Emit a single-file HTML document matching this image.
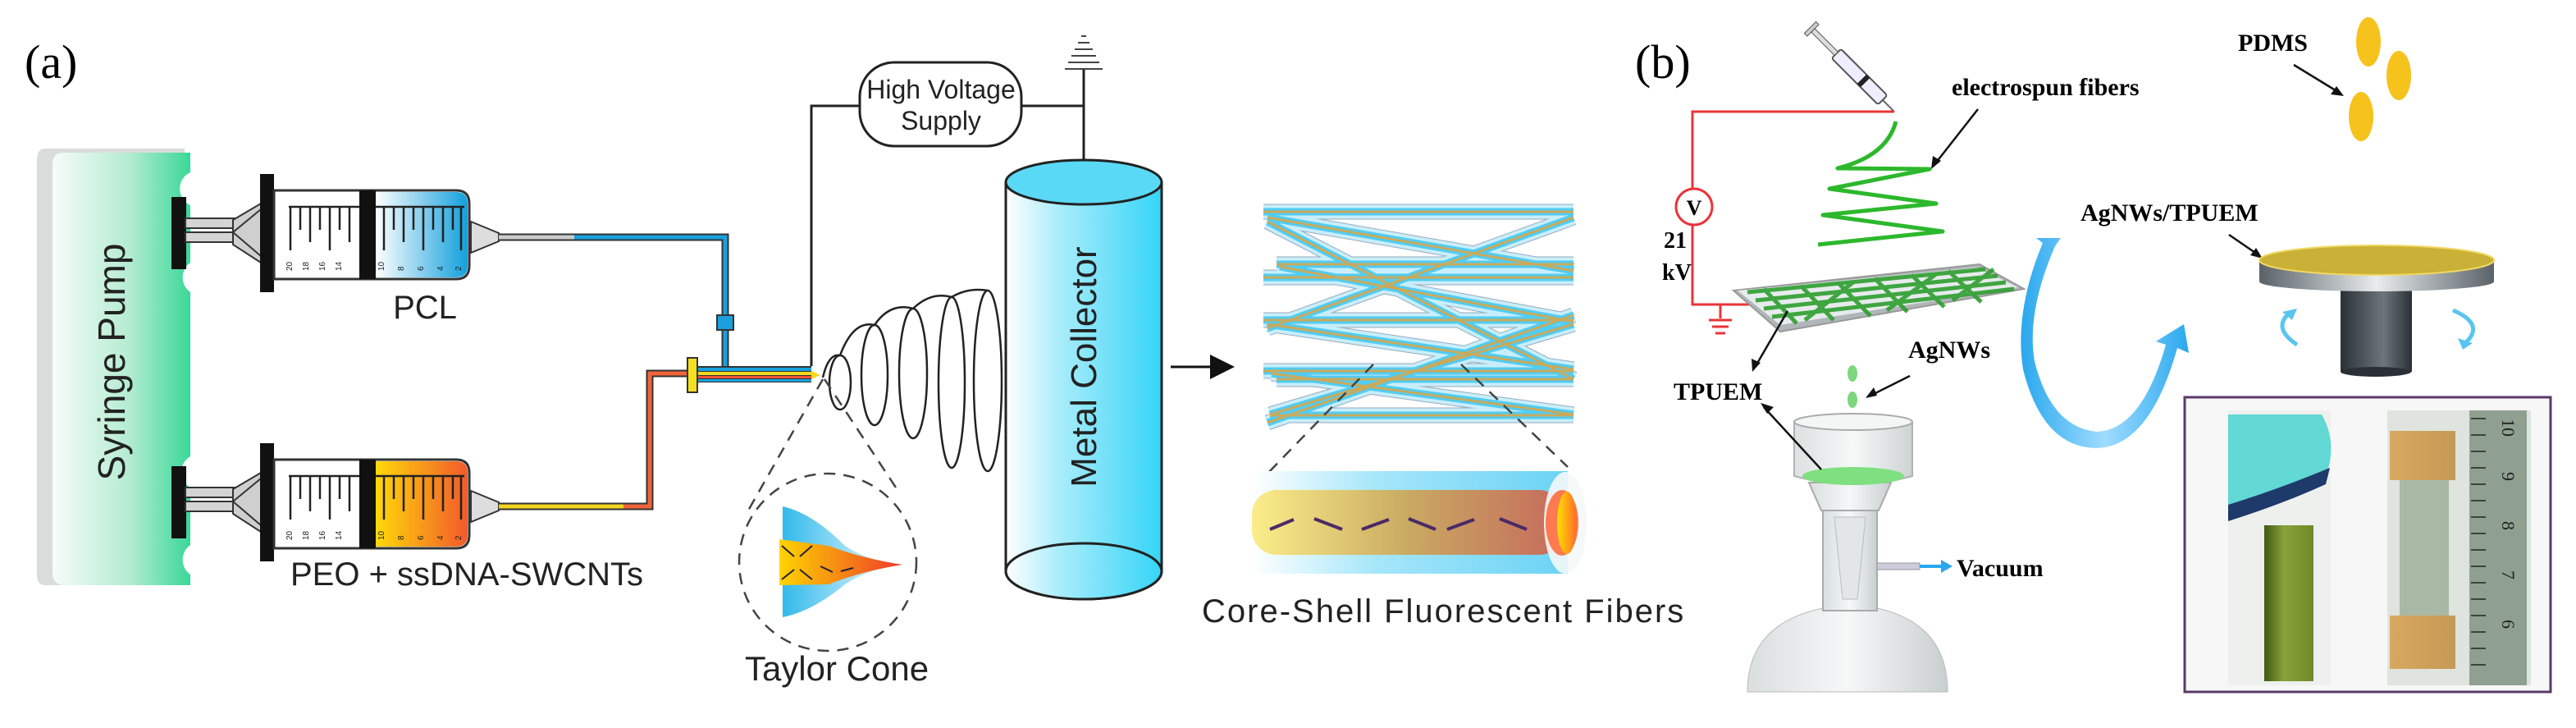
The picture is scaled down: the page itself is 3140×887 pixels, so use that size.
<!DOCTYPE html>
<html><head><meta charset="utf-8"><style>
html,body{margin:0;padding:0;background:#fff;width:3140px;height:887px;overflow:hidden}
svg{display:block}
.sans{font-family:"Liberation Sans",Arial,sans-serif}
.serif{font-family:"Liberation Serif","Times New Roman",serif}
</style></head><body>
<svg width="3140" height="887" viewBox="0 0 3140 887" xmlns="http://www.w3.org/2000/svg">
<defs>
<linearGradient id="pump" x1="0" x2="1" y1="0" y2="0"><stop offset="0" stop-color="#f6fcf8"/><stop offset="0.55" stop-color="#b5ecd2"/><stop offset="1" stop-color="#3ad898"/></linearGradient>
<linearGradient id="blueF" x1="0" x2="1"><stop offset="0" stop-color="#ffffff"/><stop offset="1" stop-color="#12a0dc"/></linearGradient>
<linearGradient id="orF" x1="0" x2="1"><stop offset="0" stop-color="#ffd80a"/><stop offset="1" stop-color="#f25a2a"/></linearGradient>
<linearGradient id="coll" x1="0" x2="1"><stop offset="0" stop-color="#ffffff"/><stop offset="0.35" stop-color="#a8ecfb"/><stop offset="1" stop-color="#34d5f7"/></linearGradient>
<linearGradient id="shell" x1="0" x2="1"><stop offset="0" stop-color="#ffffff"/><stop offset="0.4" stop-color="#a5e6fa"/><stop offset="1" stop-color="#6bd3f5"/></linearGradient>
<linearGradient id="core" x1="0" x2="1"><stop offset="0" stop-color="#fbed8a"/><stop offset="0.5" stop-color="#c9aa62"/><stop offset="1" stop-color="#c66a5c"/></linearGradient>
<linearGradient id="endc" x1="0" x2="1"><stop offset="0" stop-color="#ffe000"/><stop offset="1" stop-color="#ff6a2a"/></linearGradient>
<linearGradient id="tcone" x1="0" x2="1"><stop offset="0" stop-color="#27b6ea"/><stop offset="1" stop-color="#ffffff"/></linearGradient>
<linearGradient id="tcore" x1="0" x2="1"><stop offset="0" stop-color="#ffd400"/><stop offset="1" stop-color="#ee3a2a"/></linearGradient>
<linearGradient id="disk" x1="0" x2="1"><stop offset="0" stop-color="#5a6268"/><stop offset="0.5" stop-color="#e8ecee"/><stop offset="1" stop-color="#5a6268"/></linearGradient>
<linearGradient id="shaft" x1="0" x2="1"><stop offset="0" stop-color="#2a3036"/><stop offset="0.6" stop-color="#6c767c"/><stop offset="1" stop-color="#2a3036"/></linearGradient>
<linearGradient id="uarr" x1="0" x2="1"><stop offset="0" stop-color="#2aa8ee"/><stop offset="0.5" stop-color="#9fdcff"/><stop offset="1" stop-color="#2aa8ee"/></linearGradient>
<linearGradient id="flask" x1="0" x2="1"><stop offset="0" stop-color="#d9dedf"/><stop offset="0.5" stop-color="#f6f8f8"/><stop offset="1" stop-color="#c9cfd0"/></linearGradient>
<linearGradient id="tube" x1="0" x2="1"><stop offset="0" stop-color="#3e5a10"/><stop offset="0.4" stop-color="#8aa23a"/><stop offset="1" stop-color="#6f8a2a"/></linearGradient>
<linearGradient id="gold" x1="0" x2="1"><stop offset="0" stop-color="#d8a860"/><stop offset="1" stop-color="#c59a55"/></linearGradient>
</defs>

<text x="30" y="95" class="serif" font-size="58">(a)</text>

<path d="M55,181 H225 V205 A22,22 0 0 0 225,250 V318 A22,22 0 0 0 225,360 V552 A22,22 0 0 0 225,596 V660 A22,22 0 0 0 225,700 V713 H55 Q45,713 45,700 V195 Q45,181 55,181 Z" fill="#d8dcdc"/>
<path d="M68,186 H232 V210 A22,22 0 0 0 232,250 V320 A22,22 0 0 0 232,356 V556 A22,22 0 0 0 232,594 V664 A22,22 0 0 0 232,700 V713 H80 Q64,713 64,698 V200 Q64,186 78,186 Z" fill="url(#pump)"/>
<text transform="translate(152,441) rotate(-90)" text-anchor="middle" class="sans" font-size="46" fill="#222">Syringe Pump</text>

<g id="syr">
<rect x="209" y="240" width="18" height="88" fill="#111"/>
<rect x="226" y="266" width="62" height="12" fill="#d4d4d4" stroke="#333" stroke-width="2"/>
<rect x="226" y="283" width="62" height="12" fill="#d4d4d4" stroke="#333" stroke-width="2"/>
<polygon points="284,268 318,248 318,320 284,298" fill="#cfcfcf" stroke="#333" stroke-width="2"/>
<line x1="284" y1="283" x2="318" y2="255" stroke="#333" stroke-width="2"/>
<line x1="284" y1="283" x2="318" y2="312" stroke="#333" stroke-width="2"/>
<rect x="317" y="212" width="17" height="144" fill="#111"/>
<path d="M334,232 H556 Q572,232 572,248 V324 Q572,340 556,340 H334 Z" fill="#fff" stroke="#333" stroke-width="3"/>
</g>
<path d="M458,234 H556 Q570,234 570,248 V324 Q570,338 556,338 H458 Z" fill="url(#blueF)"/>
<g id="ticks" stroke="#222" stroke-width="2.5">
<line x1="352" y1="252" x2="566" y2="252"/>
<line x1="354" y1="252" x2="354" y2="305"/><line x1="366" y1="252" x2="366" y2="280"/><line x1="378" y1="252" x2="378" y2="295"/><line x1="390" y1="252" x2="390" y2="280"/><line x1="402" y1="252" x2="402" y2="305"/><line x1="414" y1="252" x2="414" y2="280"/><line x1="426" y1="252" x2="426" y2="295"/>
<line x1="468" y1="252" x2="468" y2="305"/><line x1="480" y1="252" x2="480" y2="280"/><line x1="492" y1="252" x2="492" y2="295"/><line x1="504" y1="252" x2="504" y2="280"/><line x1="516" y1="252" x2="516" y2="305"/><line x1="528" y1="252" x2="528" y2="280"/><line x1="540" y1="252" x2="540" y2="295"/><line x1="552" y1="252" x2="552" y2="280"/><line x1="562" y1="252" x2="562" y2="305"/>
</g>
<rect x="438" y="232" width="20" height="108" fill="#111"/>
<g class="sans" font-size="10" fill="#222">
<text transform="translate(356,330) rotate(-90)">20</text><text transform="translate(376,330) rotate(-90)">18</text><text transform="translate(396,330) rotate(-90)">16</text><text transform="translate(416,330) rotate(-90)">14</text>
<text transform="translate(468,330) rotate(-90)">10</text><text transform="translate(492,330) rotate(-90)">8</text><text transform="translate(516,330) rotate(-90)">6</text><text transform="translate(540,330) rotate(-90)">4</text><text transform="translate(562,330) rotate(-90)">2</text>
</g>
<polygon points="574,270 608,284 608,294 574,308" fill="#ddd" stroke="#333" stroke-width="2"/>
<text x="518" y="388" text-anchor="middle" class="sans" font-size="40" fill="#222">PCL</text>

<use href="#syr" transform="translate(0,328)"/>
<path d="M458,562 H556 Q570,562 570,576 V652 Q570,666 556,666 H458 Z" fill="url(#orF)"/>
<use href="#ticks" transform="translate(0,328)"/>
<rect x="438" y="560" width="20" height="108" fill="#111"/>
<g class="sans" font-size="10" fill="#222" transform="translate(0,328)">
<text transform="translate(356,330) rotate(-90)">20</text><text transform="translate(376,330) rotate(-90)">18</text><text transform="translate(396,330) rotate(-90)">16</text><text transform="translate(416,330) rotate(-90)">14</text>
<text transform="translate(468,330) rotate(-90)">10</text><text transform="translate(492,330) rotate(-90)">8</text><text transform="translate(516,330) rotate(-90)">6</text><text transform="translate(540,330) rotate(-90)">4</text><text transform="translate(562,330) rotate(-90)">2</text>
</g>
<polygon points="574,598 608,612 608,622 574,636" fill="#ddd" stroke="#333" stroke-width="2"/>
<text x="354" y="713" class="sans" font-size="40" fill="#222">PEO + ssDNA-SWCNTs</text>

<path d="M608,289 H884 V450" fill="none" stroke="#333" stroke-width="9"/>
<path d="M608,289 H700" fill="none" stroke="#ccc" stroke-width="5"/>
<path d="M700,289 H884 V450" fill="none" stroke="#1aa0dc" stroke-width="5"/>
<rect x="874" y="384" width="20" height="18" fill="#1aa0dc" stroke="#333" stroke-width="2"/>
<path d="M608,617 H792 V455 H846" fill="none" stroke="#333" stroke-width="9"/>
<path d="M608,617 H760" fill="none" stroke="#f2d520" stroke-width="5"/>
<path d="M760,617 H792 V455 H846" fill="none" stroke="#f0643a" stroke-width="5"/>
<rect x="846" y="446" width="143" height="20" fill="#333"/>
<rect x="846" y="448" width="143" height="4" fill="#1aa0dc"/>
<rect x="846" y="453" width="143" height="4" fill="#f5d820"/>
<rect x="846" y="458" width="143" height="3" fill="#f0503a"/>
<rect x="846" y="462" width="143" height="3" fill="#1aa0dc"/>
<rect x="838" y="436" width="12" height="42" fill="#f5e020" stroke="#333" stroke-width="2"/>
<polygon points="989,452 1000,457 989,462" fill="#f5d820"/>

<path d="M989,446 V129 H1048" fill="none" stroke="#222" stroke-width="3"/>
<rect x="1048" y="76" width="197" height="102" rx="42" fill="#fff" stroke="#222" stroke-width="3"/>
<text x="1147" y="120" text-anchor="middle" class="sans" font-size="32" fill="#222">High Voltage</text>
<text x="1147" y="158" text-anchor="middle" class="sans" font-size="32" fill="#222">Supply</text>
<path d="M1245,129 H1321 M1321,84 V198" stroke="#222" stroke-width="3" fill="none"/>
<g stroke="#444" stroke-width="2"><line x1="1298" y1="84" x2="1344" y2="84"/><line x1="1302" y1="76" x2="1340" y2="76"/><line x1="1306" y1="68" x2="1336" y2="68"/><line x1="1310" y1="60" x2="1332" y2="60"/><line x1="1314" y1="52" x2="1328" y2="52"/><line x1="1318" y1="44" x2="1324" y2="44"/></g>

<g fill="none" stroke="#222" stroke-width="2.5">
<path d="M1003,460 Q1010,430 1024,433"/>
<ellipse cx="1024" cy="466" rx="13" ry="33"/>
<ellipse cx="1066" cy="457" rx="16" ry="61"/>
<ellipse cx="1113" cy="455" rx="17" ry="79"/>
<ellipse cx="1160" cy="466" rx="16" ry="104"/>
<ellipse cx="1204" cy="464" rx="17" ry="110"/>
<path d="M1024,433 Q1040,390 1066,396 M1066,396 Q1085,368 1113,376 M1113,376 Q1135,355 1160,362 M1160,362 Q1180,350 1204,354"/>
</g>
<g stroke="#444" stroke-width="2.5" stroke-dasharray="14,10" fill="none">
<circle cx="1009" cy="685" r="108"/>
<line x1="1003" y1="462" x2="912" y2="622"/>
<line x1="1005" y1="462" x2="1092" y2="594"/>
</g>
<path d="M954,617 Q990,625 1030,665 Q1060,685 1102,688 Q1060,692 1030,712 Q990,745 954,752 Z" fill="url(#tcone)" opacity="0.95"/>
<path d="M950,657 L1010,665 Q1050,680 1100,688 Q1050,696 1010,712 L950,713 Z" fill="url(#tcore)"/>
<g stroke="#223" stroke-width="2"><line x1="953" y1="665" x2="968" y2="678"/><line x1="990" y1="665" x2="975" y2="678"/><line x1="953" y1="706" x2="968" y2="694"/><line x1="990" y1="706" x2="975" y2="694"/><line x1="1000" y1="690" x2="1015" y2="697"/><line x1="1025" y1="696" x2="1040" y2="692"/></g>
<text x="1020" y="829" text-anchor="middle" class="sans" font-size="42" fill="#222">Taylor Cone</text>

<path d="M1226,222 V696 A95,34 0 0 0 1416,696 V222 Z" fill="url(#coll)" stroke="#222" stroke-width="3"/>
<ellipse cx="1321" cy="222" rx="95" ry="27" fill="#5ad9f6" stroke="#222" stroke-width="3"/>
<ellipse cx="1321" cy="696" rx="95" ry="34" fill="url(#coll)" stroke="#222" stroke-width="3"/>
<text transform="translate(1336,447) rotate(-90)" text-anchor="middle" class="sans" font-size="44" fill="#222">Metal Collector</text>

<line x1="1427" y1="447" x2="1480" y2="447" stroke="#111" stroke-width="3"/>
<polygon points="1475,432 1505,447 1475,462" fill="#111"/>

<g stroke-linecap="butt">
<g id="fibs" fill="none">
<path d="M1540,258 L1918,258 M1556,322 L1918,322 M1540,338 L1918,338 M1540,390 L1918,390 M1540,452 L1918,452 M1556,462 L1918,462 M1548,506 L1918,506 M1545,265 L1918,330 M1560,325 L1918,392 M1545,400 L1918,265 M1545,515 L1918,384 M1545,395 L1918,450 M1550,455 L1918,505 M1548,505 L1918,395 M1545,270 L1918,462"/>
</g>
<use href="#fibs" stroke="#9ab" stroke-width="19"/>
<use href="#fibs" stroke="#c8eefb" stroke-width="17"/>
<use href="#fibs" stroke="#3cc6f0" stroke-width="9" opacity="0.85"/>
<use href="#fibs" stroke="#c9aa5c" stroke-width="3"/>
</g>
<g stroke="#444" stroke-width="2.5" stroke-dasharray="14,10"><line x1="1674" y1="444" x2="1545" y2="577"/><line x1="1781" y1="444" x2="1911" y2="569"/></g>
<rect x="1526" y="574" width="385" height="125" fill="url(#shell)"/>
<rect x="1526" y="597" width="380" height="79" rx="30" fill="url(#core)"/>
<ellipse cx="1908" cy="637" rx="26" ry="62" fill="#f4f8fa" opacity="0.9"/>
<ellipse cx="1904" cy="637" rx="20" ry="40" fill="#ff7a50"/>
<ellipse cx="1910" cy="637" rx="12" ry="38" fill="url(#endc)"/>
<g stroke="#4a2a66" stroke-width="4"><line x1="1548" y1="645" x2="1577" y2="633"/><line x1="1602" y1="632" x2="1636" y2="645"/><line x1="1660" y1="645" x2="1693" y2="633"/><line x1="1717" y1="632" x2="1750" y2="645"/><line x1="1764" y1="645" x2="1797" y2="633"/><line x1="1828" y1="632" x2="1861" y2="645"/></g>
<text x="1465" y="758" class="sans" font-size="40" letter-spacing="2" fill="#222">Core-Shell Fluorescent Fibers</text>

<text x="1993" y="95" class="serif" font-size="58">(b)</text>
<g transform="translate(2309,136) rotate(-135)">
<line x1="0" y1="0" x2="20" y2="0" stroke="#666" stroke-width="2"/>
<rect x="20" y="-8" width="80" height="16" rx="3" fill="#eef" stroke="#555" stroke-width="2"/>
<rect x="50" y="-8" width="6" height="16" fill="#222"/>
<rect x="100" y="-3" width="40" height="6" fill="#ddd" stroke="#555"/>
<rect x="140" y="-10" width="5" height="20" fill="#ccc" stroke="#555"/>
</g>
<path d="M2309,136 H2063 V230 M2063,274 V371 H2159 M2097,371 V388" fill="none" stroke="#e8343a" stroke-width="3"/>
<circle cx="2065" cy="252" r="22" fill="#fff" stroke="#e8343a" stroke-width="3"/>
<text x="2065" y="262" text-anchor="middle" class="serif" font-weight="bold" font-size="26">V</text>
<g stroke="#e8343a" stroke-width="3"><line x1="2083" y1="390" x2="2111" y2="390"/><line x1="2087" y1="398" x2="2107" y2="398"/><line x1="2091" y1="406" x2="2103" y2="406"/></g>
<text x="2028" y="302" class="serif" font-weight="bold" font-size="28">21</text>
<text x="2026" y="341" class="serif" font-weight="bold" font-size="28">kV</text>
<path d="M2311,148 Q2300,190 2240,205 L2352,206 L2230,230 L2360,248 L2222,262 L2368,282 L2216,298" fill="none" stroke="#2cb82c" stroke-width="5" stroke-linejoin="round"/>
<text x="2379" y="116" class="serif" font-weight="bold" font-size="30">electrospun fibers</text>
<line x1="2411" y1="133" x2="2360" y2="198" stroke="#111" stroke-width="2.5"/><polygon points="2354,206 2356,190 2366,196" fill="#111"/>
<polygon points="2113,354 2413,322 2467,352 2170,404" fill="#b0b6b9" stroke="#999" stroke-width="2"/>
<polygon points="2118,354 2410,326 2460,350 2170,396" fill="#e6ebec"/>
<g stroke="#2e9e2e" stroke-width="5" opacity="0.9"><line x1="2130" y1="356" x2="2420" y2="328"/><line x1="2140" y1="366" x2="2435" y2="336"/><line x1="2150" y1="376" x2="2445" y2="344"/><line x1="2160" y1="386" x2="2455" y2="352"/><line x1="2150" y1="352" x2="2190" y2="394"/><line x1="2195" y1="348" x2="2235" y2="390"/><line x1="2240" y1="344" x2="2280" y2="385"/><line x1="2285" y1="339" x2="2325" y2="380"/><line x1="2330" y1="335" x2="2370" y2="374"/><line x1="2375" y1="330" x2="2415" y2="368"/><line x1="2200" y1="390" x2="2260" y2="343"/><line x1="2300" y1="378" x2="2360" y2="334"/><line x1="2380" y1="366" x2="2430" y2="328"/></g>
<line x1="2179" y1="379" x2="2140" y2="446" stroke="#111" stroke-width="2.5"/><polygon points="2136,453 2135,437 2146,442" fill="#111"/>
<text x="2040" y="487" class="serif" font-weight="bold" font-size="30">TPUEM</text>
<text x="2326" y="436" class="serif" font-weight="bold" font-size="30">AgNWs</text>
<line x1="2328" y1="458" x2="2282" y2="481" stroke="#111" stroke-width="2.5"/><polygon points="2274,485 2284,472 2288,482" fill="#111"/>
<ellipse cx="2258" cy="455" rx="6" ry="10" fill="#7ed67e"/><ellipse cx="2258" cy="487" rx="6" ry="10" fill="#7ed67e"/>
<path d="M2130,843 Q2130,760 2222,741 H2288 Q2374,760 2374,843 Z" fill="url(#flask)" stroke="#bbb"/>
<rect x="2222" y="622" width="66" height="122" fill="url(#flask)" stroke="#aaa" stroke-width="2"/>
<polygon points="2236,630 2274,630 2264,730 2246,730" fill="#e2e6e6" stroke="#bbb"/>
<polygon points="2205,588 2305,588 2290,622 2220,622" fill="url(#flask)" stroke="#aaa" stroke-width="2"/>
<path d="M2187,514 V580 Q2259,600 2331,580 V514" fill="url(#flask)" stroke="#aaa" stroke-width="2" opacity="0.9"/>
<ellipse cx="2259" cy="514" rx="72" ry="10" fill="#f4f6f6" stroke="#aaa" stroke-width="2"/>
<ellipse cx="2259" cy="580" rx="62" ry="11" fill="#7ee07e"/>
<line x1="2150" y1="496" x2="2220" y2="572" stroke="#111" stroke-width="2.5"/><polygon points="2146,491 2162,496 2154,504" fill="#111"/>
<rect x="2288" y="686" width="52" height="8" fill="#ccd" stroke="#999"/>
<line x1="2340" y1="690" x2="2368" y2="690" stroke="#2aa8ee" stroke-width="4"/><polygon points="2366,682 2380,690 2366,698" fill="#2aa8ee"/>
<text x="2385" y="702" class="serif" font-weight="bold" font-size="30">Vacuum</text>
<path d="M2505,300 Q2470,380 2480,440 Q2500,520 2555,526 Q2610,525 2640,420 L2628,416 L2662,395 L2668,430 L2654,424 Q2620,545 2555,546 Q2490,545 2466,450 Q2455,380 2490,296 L2482,290 L2512,290 Z" fill="url(#uarr)"/>
<text x="2536" y="269" class="serif" font-weight="bold" font-size="30">AgNWs/TPUEM</text>
<line x1="2717" y1="286" x2="2752" y2="310" stroke="#111" stroke-width="2.5"/><polygon points="2758,315 2743,311 2750,302" fill="#111"/>
<text x="2728" y="62" class="serif" font-weight="bold" font-size="30">PDMS</text>
<line x1="2796" y1="79" x2="2850" y2="112" stroke="#111" stroke-width="2.5"/><polygon points="2857,117 2841,115 2848,105" fill="#111"/>
<ellipse cx="2887" cy="51" rx="15" ry="30" fill="#f6c21c"/><ellipse cx="2924" cy="92" rx="15" ry="30" fill="#f6c21c"/><ellipse cx="2878" cy="142" rx="15" ry="30" fill="#f6c21c"/>
<rect x="2853" y="340" width="87" height="113" fill="url(#shaft)"/>
<ellipse cx="2896" cy="453" rx="43" ry="6" fill="#2a3036"/>
<path d="M2754,317 V343 A143,12 0 0 0 3040,343 V317 Z" fill="url(#disk)"/>
<ellipse cx="2897" cy="317" rx="143" ry="18" fill="#c9b036" stroke="#f0d860" stroke-width="2"/>
<path d="M2800,420 Q2770,400 2790,382" fill="none" stroke="#5ac4f0" stroke-width="5"/><polygon points="2782,380 2800,376 2794,390" fill="#5ac4f0"/>
<path d="M2990,378 Q3030,395 3005,418" fill="none" stroke="#5ac4f0" stroke-width="5"/><polygon points="2996,412 3014,418 3002,426" fill="#5ac4f0"/>
<rect x="2663" y="484" width="446" height="359" fill="#f6f7f6" stroke="#5a3a6a" stroke-width="3"/>
<rect x="2716" y="500" width="125" height="335" fill="#eef0ee"/>
<path d="M2716,505 H2830 Q2850,540 2835,580 Q2790,610 2716,630 Z" fill="#62d8d4"/>
<path d="M2716,615 Q2780,595 2840,570 L2835,590 Q2780,615 2716,635 Z" fill="#1e3a6a"/>
<rect x="2760" y="640" width="60" height="190" fill="url(#tube)"/>
<rect x="2910" y="500" width="175" height="335" fill="#dfe4df"/>
<rect x="2913" y="525" width="80" height="60" fill="url(#gold)"/>
<rect x="2925" y="585" width="60" height="165" fill="#a9b8a4"/>
<rect x="2913" y="750" width="80" height="65" fill="url(#gold)"/>
<rect x="3010" y="500" width="70" height="335" fill="#8fa090"/>
<g stroke="#222" stroke-width="1.5">
<line x1="3012" y1="510" x2="3030" y2="510"/><line x1="3012" y1="530" x2="3030" y2="530"/><line x1="3012" y1="550" x2="3030" y2="550"/><line x1="3012" y1="570" x2="3030" y2="570"/><line x1="3012" y1="590" x2="3030" y2="590"/><line x1="3012" y1="610" x2="3030" y2="610"/><line x1="3012" y1="630" x2="3030" y2="630"/><line x1="3012" y1="650" x2="3030" y2="650"/><line x1="3012" y1="670" x2="3030" y2="670"/><line x1="3012" y1="690" x2="3030" y2="690"/><line x1="3012" y1="710" x2="3030" y2="710"/><line x1="3012" y1="730" x2="3030" y2="730"/><line x1="3012" y1="750" x2="3030" y2="750"/><line x1="3012" y1="770" x2="3030" y2="770"/><line x1="3012" y1="790" x2="3030" y2="790"/><line x1="3012" y1="810" x2="3030" y2="810"/>
</g>
<g class="serif" font-size="22" fill="#222">
<text transform="translate(3050,575) rotate(90)">9</text><text transform="translate(3050,635) rotate(90)">8</text><text transform="translate(3050,695) rotate(90)">7</text><text transform="translate(3050,755) rotate(90)">6</text><text transform="translate(3050,510) rotate(90)">10</text>
</g>
</svg>
</body></html>
